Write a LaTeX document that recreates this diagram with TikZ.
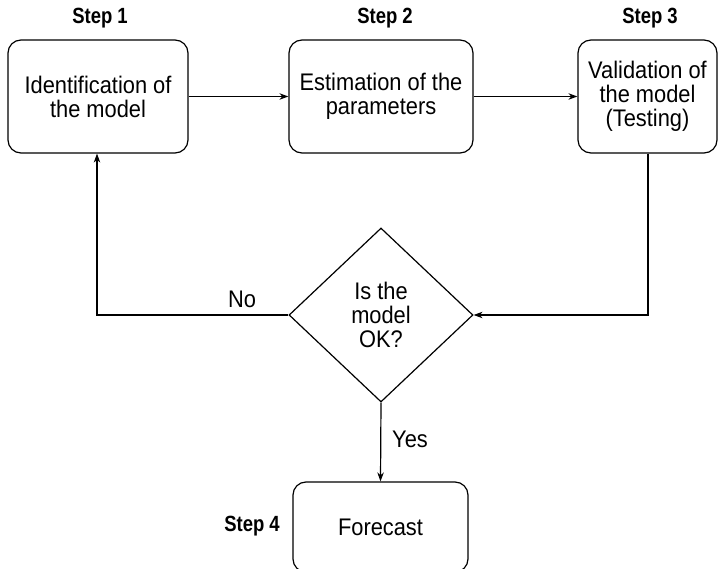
\documentclass[tikz,border=0pt]{standalone}
\usepackage{fontspec}
\setmainfont{Liberation Sans}[FakeStretch=0.91]
\newfontfamily\stepfont{Liberation Sans}[FakeStretch=0.84]
\usetikzlibrary{shapes.geometric,arrows.meta}
\begin{document}
\begin{tikzpicture}[x=1pt,y=-1pt,
  box/.style={draw, line width=1.2pt, rounded corners=13pt, align=center, inner sep=0pt, font=\fontsize{24}{24}\selectfont},
  lbl/.style={font=\fontsize{24}{24}\selectfont, inner sep=0pt},
  steplbl/.style={font=\stepfont\fontsize{22}{24}\selectfont\bfseries, inner sep=0pt},
  arr/.style={line width=1.2pt, -{Stealth[length=9pt,width=6.5pt]}},
  ln/.style={line width=1.2pt}]
\clip (0,0) rectangle (718,569);
\fill[white] (0,0) rectangle (718,569);
\node[box, minimum width=180pt, minimum height=113pt] (b1) at (98,96.5) {Identification of\\the model};
\node[box, minimum width=184pt, minimum height=113pt] (b2) at (381,96.5) {Estimation of the\\parameters};
\node[box, minimum width=139pt, minimum height=113pt] (b3) at (647.5,96.5) {Validation of\\the model\\(Testing)};
\node[draw, diamond, line width=1.2pt, minimum width=184pt, minimum height=174pt, inner sep=0pt, align=center, font=\fontsize{24}{24}\selectfont] (d) at (381,315) {Is the\\model\\OK?};
\node[box, minimum width=175pt, minimum height=90pt] (b4) at (380.5,527) {Forecast};
\node[steplbl] (s1) at (100,18) {Step 1};
\node[steplbl] (s2) at (385,18) {Step 2};
\node[steplbl] (s3) at (650,18) {Step 3};
\node[steplbl] (s4) at (252,526) {Step 4};
\coordinate (c1) at (648,315);
\coordinate (c2) at (97,315);
\draw[arr] (b1) -- (b2);
\draw[arr] (b2) -- (b3);
\draw[arr] (b3.south -| c1) -- (c1) -- (d.east);
\draw[arr] (d.west) -- (c2) -- (c2 |- b1.south);
\draw[arr] (d.south) -- (b4.north);
\node[lbl] (no) at (242,299) {No};
\node[lbl, anchor=west] (yes) at (392,439) {Yes};
\end{tikzpicture}
\end{document}
